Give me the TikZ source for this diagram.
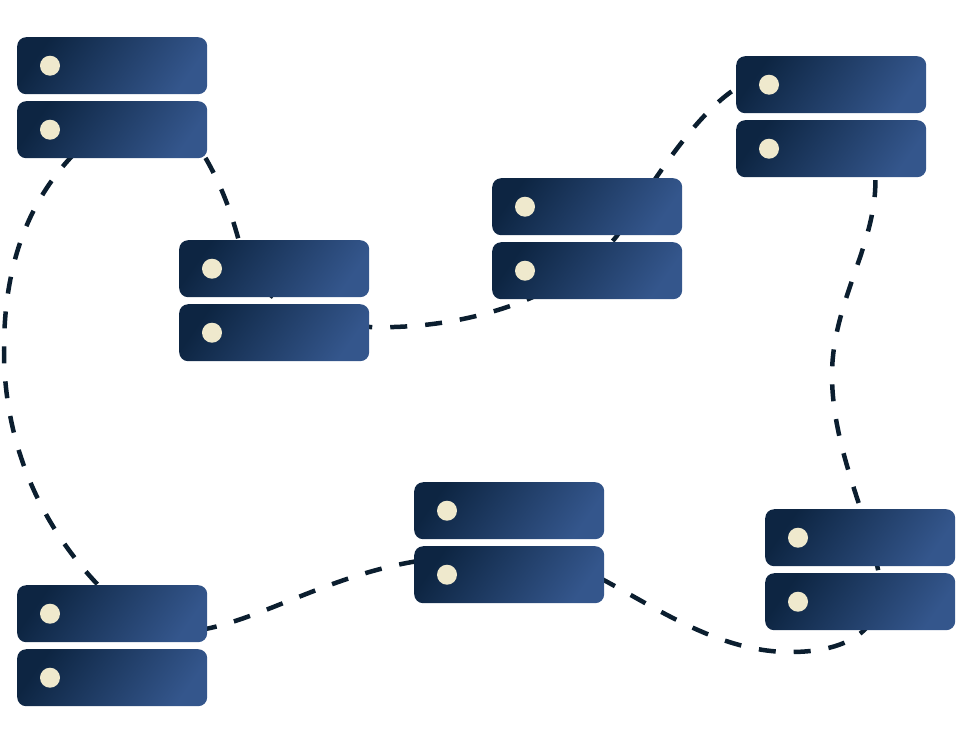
\documentclass[tikz,border=0pt]{standalone}
\usetikzlibrary{positioning,calc}
\pgfdeclarelayer{background}
\pgfsetlayers{background,main}
\definecolor{srvL}{HTML}{0D2542}
\definecolor{srvR}{HTML}{34568C}
\definecolor{dotC}{HTML}{EFE9CD}
\definecolor{lineC}{HTML}{0B1E2F}
\tikzset{
  unit/.style={rectangle, rounded corners=9pt, minimum width=190pt, minimum height=57pt,
    inner sep=0pt, anchor=north west, left color=srvL, right color=srvR, shading angle=55},
  led/.style={circle, fill=dotC, minimum size=20pt, inner sep=0pt},
  link/.style={draw=lineC, line width=4.5pt, dash pattern=on 17pt off 18pt}
}
\newcommand{\srvpair}[3]{%
  \node[unit] (#1a) at (#2,#3) {};
  \node[led] (#1ad) at ($(#1a.west)+(33pt,0)$) {};
  \node[unit] (#1b) at (#2,#3+64) {};
  \node[led] (#1bd) at ($(#1b.west)+(33pt,0)$) {};
}
\begin{document}
\begin{tikzpicture}[x=1pt,y=-1pt]
\useasboundingbox (0,0) rectangle (960,750);
\srvpair{s1}{17}{37}
\srvpair{s2}{179}{240}
\srvpair{s3}{492}{178}
\srvpair{s4}{736}{56}
\srvpair{s5}{17}{585}
\srvpair{s6}{414}{482}
\srvpair{s7}{765}{509}
% connector points
\coordinate (a1) at (74,154);
\coordinate (a2) at (4,350);
\coordinate (a3) at (100,587);
\coordinate (b1) at (200,630);
\coordinate (b2) at (418,561);
\coordinate (c1) at (600,578);
\coordinate (c2) at (790,652);
\coordinate (c3) at (880,580);
\coordinate (c4) at (832,375);
\coordinate (c5) at (875,172);
\coordinate (d1) at (740,86);
\coordinate (d2) at (616,237);
\coordinate (d3) at (370,327);
\coordinate (d4) at (240,245);
\coordinate (d5) at (202,152);
\begin{pgfonlayer}{background}
\draw[link] (a1) .. controls (20,210) and (4,280) .. (a2)
  .. controls (4,450) and (45,530) .. (a3);
\draw[link] (b1) .. controls (260,620) and (330,575) .. (b2);
\draw[link] (c1) .. controls (660,610) and (720,652) .. (c2)
  .. controls (860,652) and (885,620) .. (c3)
  .. controls (870,520) and (832,450) .. (c4)
  .. controls (832,300) and (880,240) .. (c5);
\draw[link, dash phase=25pt] (d1) .. controls (690,115) and (640,205) .. (d2)
  .. controls (570,295) and (470,330) .. (d3)
  .. controls (275,320) and (248,280) .. (d4)
  .. controls (232,215) and (222,185) .. (d5);
\end{pgfonlayer}
\end{tikzpicture}
\end{document}
